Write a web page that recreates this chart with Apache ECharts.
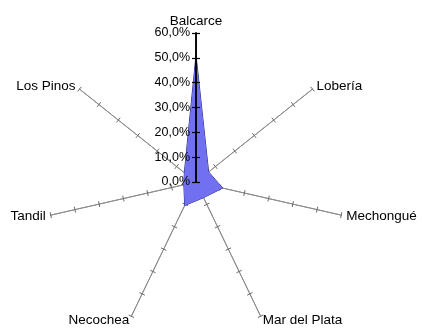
<!DOCTYPE html>
<html>
<head>
<meta charset="utf-8">
<script src="https://cdn.jsdelivr.net/npm/echarts@6/dist/echarts.min.js"></script>
<style>
  html, body { margin: 0; padding: 0; background: #fff; }
  #chart { width: 422px; height: 329px; }
</style>
</head>
<body>
<div id="chart"></div>
<script>
// localidades, en orden antihorario desde arriba (como las dibuja echarts)
const localidades = ['Balcarce', 'Los Pinos', 'Tandil', 'Necochea', 'Mar del Plata', 'Mechongué', 'Lobería'];
const porcentajes = [51, 6, 5, 10.5, 7, 11, 6.5];
const maxEscala = 60;
const pasoEscala = 10;

const chart = echarts.init(document.getElementById('chart'));

const centro = [196, 182];
const radio = 149;
const fuente = 'Liberation Sans, Arial, sans-serif';

const indicadores = localidades.map(n => ({ name: n, min: 0, max: maxEscala }));

// dos radares superpuestos: uno con marcas hacia un lado y otro hacia el otro
function radarBase(largo, showName) {
  return {
    center: centro,
    radius: radio,
    startAngle: 90,
    splitNumber: maxEscala / pasoEscala,
    indicator: indicadores,
    axisName: {
      show: showName,
      color: '#000',
      fontFamily: fuente,
      fontSize: 13.5
    },
    nameGap: 5,
    axisLine: { lineStyle: { color: '#8c8c8c', width: 1 } },
    axisTick: { show: true, length: largo, lineStyle: { color: '#6a6a6a' } },
    axisLabel: { show: false },
    splitLine: { show: false },
    splitArea: { show: false }
  };
}

function polarBase(largo, showLabel) {
  return {
    polar: { center: centro, radius: radio },
    angle: { startAngle: 90, show: false, min: 0, max: 360 },
    radius: {
      min: 0,
      max: maxEscala,
      interval: pasoEscala,
      z: 10,
      axisLine: { lineStyle: { color: '#000', width: 1.5 } },
      axisTick: { show: true, length: largo, lineStyle: { color: '#000', width: 1.2 } },
      axisLabel: {
        show: showLabel,
        color: '#000',
        fontFamily: fuente,
        fontSize: 12.5,
        margin: 6,
        formatter: v => v.toFixed(1).replace('.', ',') + '%'
      },
      splitLine: { show: false }
    }
  };
}

const p1 = polarBase(4, true);
const p2 = polarBase(-4, false);

chart.setOption({
  animation: false,
  radar: [radarBase(3, true), radarBase(-3, false)],
  polar: [p1.polar, p2.polar],
  angleAxis: [
    Object.assign({ polarIndex: 0 }, p1.angle),
    Object.assign({ polarIndex: 1 }, p2.angle)
  ],
  radiusAxis: [
    Object.assign({ polarIndex: 0 }, p1.radius),
    Object.assign({ polarIndex: 1 }, p2.radius)
  ],
  series: [
    {
      type: 'radar',
      radarIndex: 0,
      symbol: 'none',
      lineStyle: { color: '#24246e', width: 1 },
      areaStyle: { color: '#7070f0', opacity: 1 },
      data: [{ value: porcentajes, name: 'Porcentaje' }]
    }
  ]
});
</script>
</body>
</html>
